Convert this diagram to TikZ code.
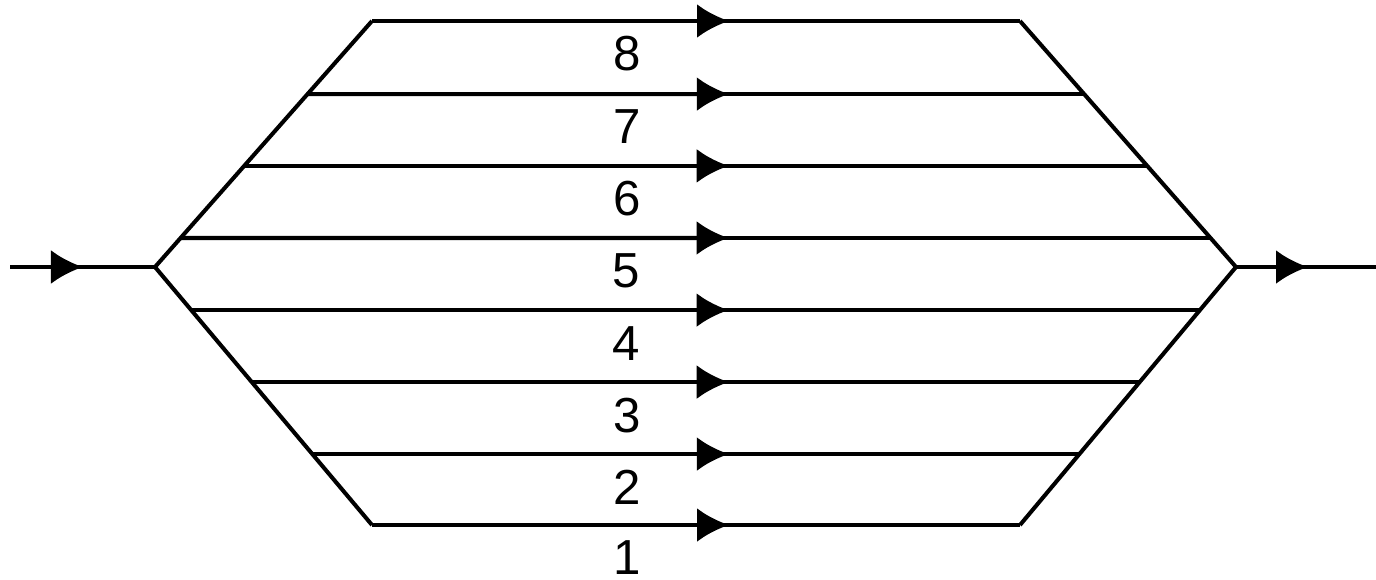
\documentclass[tikz,border=0pt]{standalone}
\usepackage{fontspec}
\setmainfont{Liberation Sans}
\usetikzlibrary{arrows.meta,positioning,calc}

\begin{document}
\begin{tikzpicture}[
    wire/.style={line width=1.15pt},
    tip/.style={wire, -{Latex[length=0.32cm,width=0.34cm]}},
    num/.style={font=\fontsize{14}{16}\selectfont, inner sep=0pt}
]
    \useasboundingbox (0,0) rectangle (13.76,5.79);

    % outer frame
    \coordinate (in) at (0.10,3.12);
    \coordinate (L) at (1.55,3.12);
    \coordinate (R) at (12.36,3.12);
    \coordinate (out) at (13.76,3.12);
    \coordinate (TL) at (3.72,5.58);
    \coordinate (TR) at (10.20,5.58);
    \coordinate (BL) at (3.72,0.54);
    \coordinate (BR) at (10.20,0.54);
    \coordinate (inm) at (0.83,3.12);
    \coordinate (outm) at (13.08,3.12);

    \draw[wire] (in) -- (L);
    \draw[tip] (in) -- (inm);
    \draw[wire, line join=miter] (TL) -- (L) -- (BL);
    \draw[wire, line join=miter] (TR) -- (R) -- (BR);
    \draw[wire] (R) -- (out);
    \draw[tip] (R) -- (outm);

    % the eight paths
    \foreach \k/\t/\s in {8/1.000/T, 7/0.703/T, 6/0.411/T, 5/0.118/T,
                          4/0.167/B, 3/0.446/B, 2/0.725/B, 1/1.000/B} {
        \coordinate (a\k) at ($(L)!\t!(\s L)$);
        \coordinate (b\k) at ($(R)!\t!(\s R)$);
        \coordinate (m\k) at ($(a\k)!0.5!(b\k) + (0.33,0)$);
        \draw[wire] (a\k) -- (b\k);
        \draw[tip] (a\k) -- (m\k);
        \node[num] (n\k) at ($(a\k)!0.5!(b\k) + (-0.69,-0.33)$) {\k};
    }
\end{tikzpicture}
\end{document}
